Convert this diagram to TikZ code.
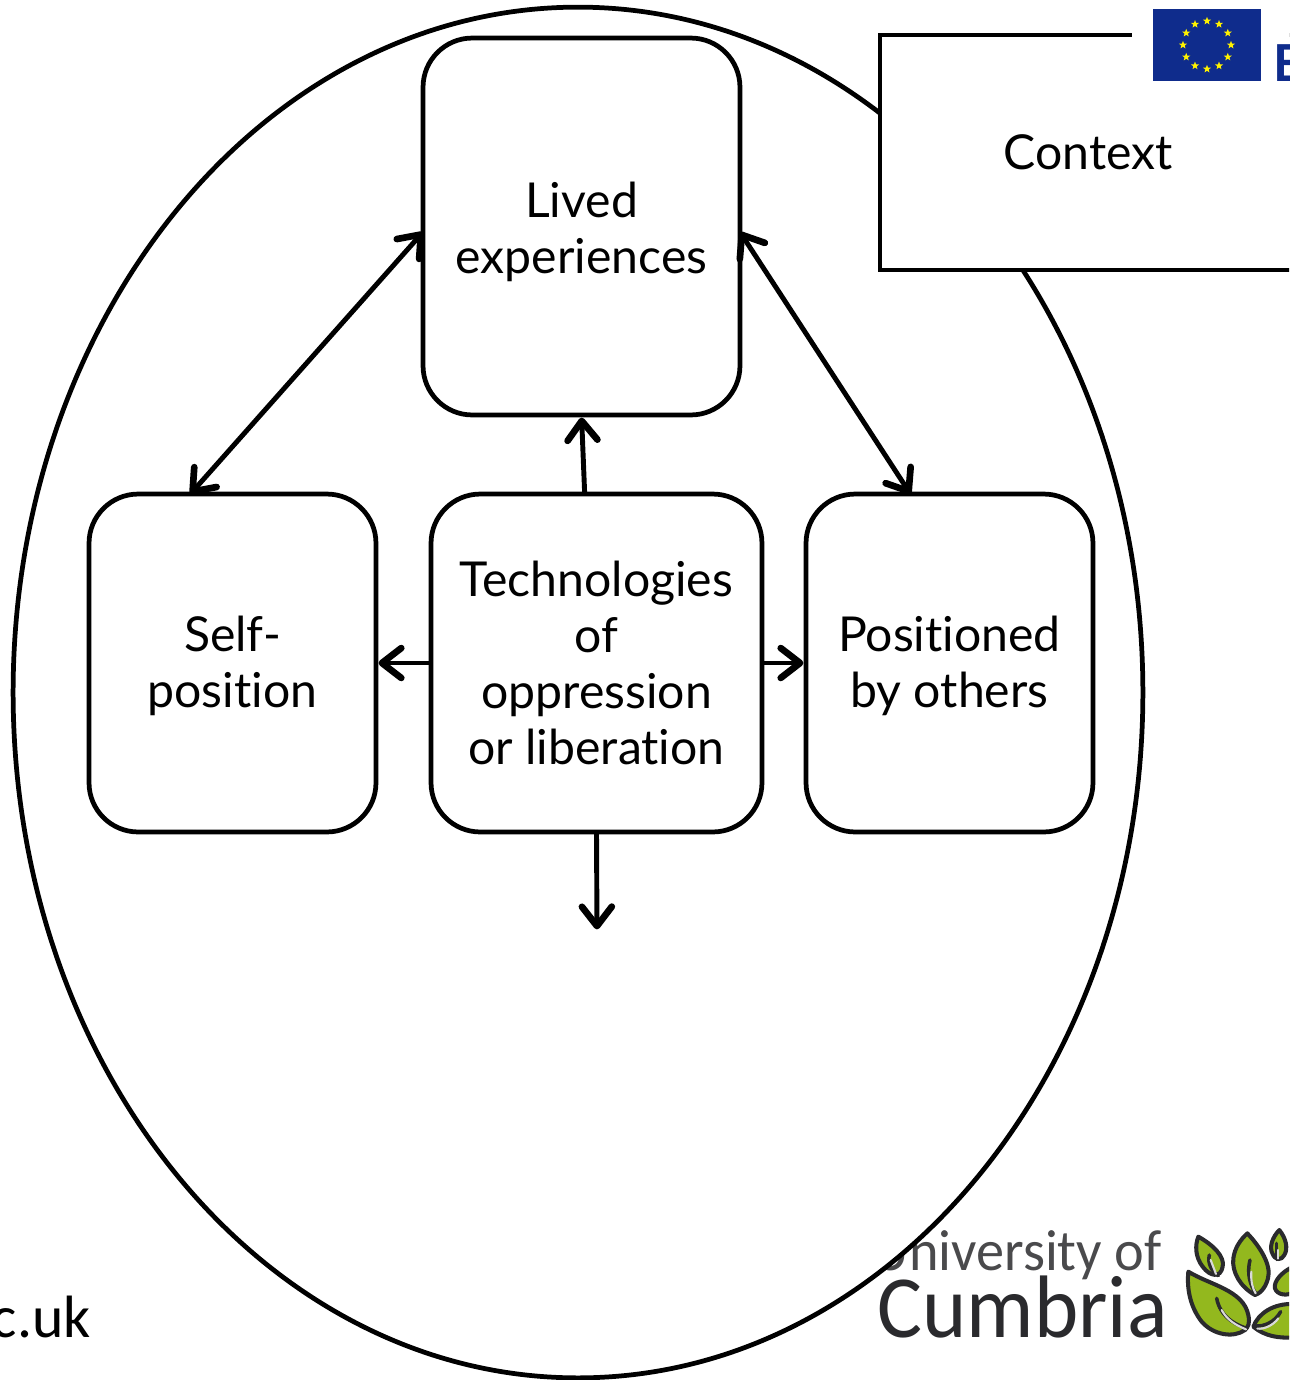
\documentclass[tikz,border=0pt]{standalone}
\usepackage{fontspec}
\setmainfont[Ligatures=NoCommon]{Lato}
\newfontfamily\logofont[Ligatures=NoCommon]{Carlito}
\usetikzlibrary{arrows.meta,shapes.geometric}
\definecolor{eublue}{HTML}{0F2C8C}
\definecolor{leafgreen}{HTML}{93B81E}
\definecolor{logoink}{HTML}{2A2A2D}
\newcommand{\lowered}[1]{\rule{0pt}{#1}}
\tikzset{
        x=0.02cm, y=-0.02cm,
        box/.style={draw=black, fill=white, line width=2.7pt, rounded corners=28pt, outer sep=0pt, inner sep=0pt, align=center, font=\fontsize{27.4}{32}\selectfont},
        contextbox/.style={draw=black, fill=white, line width=2.7pt, outer sep=0pt, inner sep=0pt, minimum width=8.32cm, minimum height=4.7cm, font=\fontsize{27.4}{32}\selectfont},
        barb/.tip={Straight Barb[length=11pt,width=17pt,line width=3.8pt,round]},
        link/.style={line width=2.8pt, -barb, shorten >=1.5pt},
        biglink/.style={line width=2.8pt, barb-barb},
        leaf/.style={draw=logoink, fill=leafgreen, line width=2.3pt, line join=round},
        rib/.style={draw=logoink, line width=2pt, line cap=round},
        vein/.style={draw=white!85!black, line width=1.2pt, line cap=round},
        eustar/.style={star, star points=5, star point ratio=2.4, fill=yellow, draw=none, inner sep=0pt, minimum size=0.17cm}
          }
\begin{document}
\begin{tikzpicture}
  \useasboundingbox (0,0) rectangle (1289,1380);
  \clip (0,0) rectangle (1289,1380);
  % logo and web address lie under the ellipse
  \node[anchor=base east, font=\logofont\fontsize{34}{34}\selectfont, text=black, inner sep=0pt] (web) at (91,1337) {c.uk};
  \node[anchor=base east, xscale=0.97, font=\logofont\fontsize{33}{33}\selectfont, text=logoink!85!white, inner sep=0pt] (uni) at (1162,1270) {University of};
  \node[anchor=base east, xscale=0.95, font=\logofont\fontsize{50.5}{50.5}\selectfont, text=logoink, inner sep=0pt] (cumbria) at (1168,1337) {Cumbria};
  % leaves, in units of a third of a pixel
  \begin{scope}[shift={(860,1210)}, scale=1/3]
    \draw[leaf] (1015,80) .. controls (1060,105) and (1095,140) .. (1088,170) .. controls (1082,205) and (1050,200) .. (1028,170) .. controls (1005,140) and (1005,105) .. (1015,80) -- cycle;
    \draw[leaf] (1162,70) .. controls (1200,110) and (1235,165) .. (1224,205) .. controls (1215,240) and (1195,252) .. (1185,255) .. controls (1140,230) and (1115,185) .. (1120,145) .. controls (1124,115) and (1140,90) .. (1162,70) -- cycle;
    \draw[leaf] (1258,60) .. controls (1278,85) and (1285,115) .. (1273,135) .. controls (1265,152) and (1245,152) .. (1237,130) .. controls (1227,110) and (1238,80) .. (1258,60) -- cycle;
    \draw[leaf] (1300,170) .. controls (1265,185) and (1240,215) .. (1245,235) .. controls (1250,255) and (1285,260) .. (1300,245) -- cycle;
    \draw[leaf] (985,185) .. controls (1050,225) and (1150,240) .. (1165,315) .. controls (1170,340) and (1165,350) .. (1155,360) .. controls (1120,385) and (1060,375) .. (1025,335) .. controls (990,290) and (980,235) .. (985,185) -- cycle;
    \draw[leaf] (1180,350) .. controls (1195,310) and (1240,280) .. (1300,282) -- (1300,382) .. controls (1260,385) and (1215,380) .. (1180,350) -- cycle;
    \draw[rib] (1048,135) .. controls (1042,160) and (1055,185) .. (1075,197);
    \draw[vein] (1052,150) -- (1068,192);
    \draw[rib] (1170,150) .. controls (1160,190) and (1170,225) .. (1187,250);
    \draw[vein] (1174,185) .. controls (1172,215) and (1178,235) .. (1187,250);
    \draw[rib] (1250,100) -- (1250,148);
    \draw[vein] (1254,120) -- (1254,146);
    \draw[rib] (1070,265) .. controls (1080,315) and (1115,340) .. (1160,355);
    \draw[vein] (1085,300) .. controls (1100,328) and (1125,345) .. (1158,358);
    \draw[rib] (1185,348) .. controls (1215,350) and (1245,335) .. (1262,305);
    \draw[vein] (1192,356) .. controls (1215,358) and (1240,345) .. (1255,325);
  \end{scope}
  \node[draw=black, fill=white, line width=2.7pt, ellipse, outer sep=0pt, inner sep=0pt, minimum width=22.6cm, minimum height=27.42cm] (world) at (578,692.5) {};
  \node[contextbox] (context) at (1088,152.5) {Context};
  % flag sits on a white patch
  \fill[white] (1132,0) rectangle (1289,88);
  \fill[eublue] (1153,9) rectangle (1261,81);
  \foreach \a in {0,30,...,330}
    \node[eustar] (star\a) at ({1207+24*cos(\a)},{45+24*sin(\a)}) {};
  \node[anchor=base west, font=\bfseries\fontsize{29}{29}\selectfont, text=eublue, inner sep=0pt] (eu) at (1273,81) {E};
  % boxes
  \node[box, minimum width=6.34cm, minimum height=7.54cm] (lived) at (581.5,226.5) {\lowered{26.4pt}Lived\\experiences};
  \node[box, minimum width=5.74cm, minimum height=6.76cm] (self) at (232.5,663) {\lowered{23.6pt}Self-\\position};
  \node[box, minimum width=6.62cm, minimum height=6.76cm] (tech) at (596.5,663) {Technologies\\of\\oppression\\or liberation};
  \node[box, minimum width=5.74cm, minimum height=6.76cm] (others) at (949.5,663) {\lowered{23.6pt}Positioned\\by others};
  \coordinate (down) at (597,932);
  % arrows
  \draw[biglink] (lived.182) -- (self.104);
  \draw[biglink] (lived.-2) -- (others.103);
  \draw[link] (tech.94.6) -- (lived.south);
  \draw[link] (tech.west) -- (self.east);
  \draw[link] (tech.east) -- (others.west);
  \draw[link] (tech.-90.5) -- (down);
\end{tikzpicture}
\end{document}
